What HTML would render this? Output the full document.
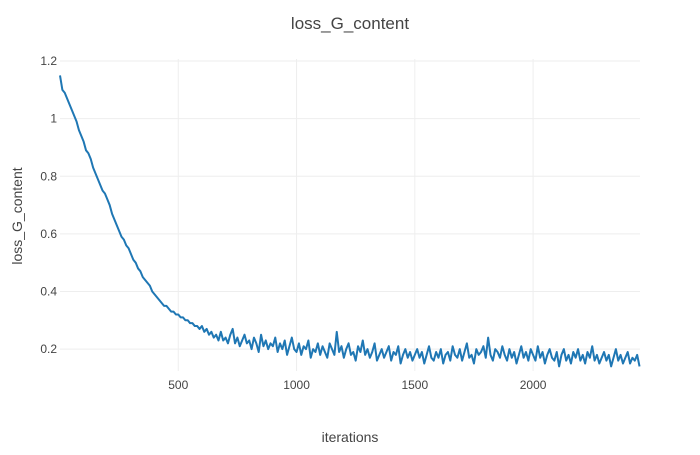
<!DOCTYPE html>
<html><head><meta charset="utf-8"><style>
body{margin:0;background:#fff;}
svg text{font-family:"Liberation Sans",sans-serif;fill:#444;}
</style></head><body>
<svg id="chart" width="700" height="450" xmlns="http://www.w3.org/2000/svg">
<text x="350" y="29" text-anchor="middle" font-size="17">loss_G_content</text>
<g id="grid"></g>
<g id="ticks"></g>
<path id="line" fill="none" stroke="#1f77b4" stroke-width="2" stroke-linejoin="round"></path>
<text x="350" y="442" text-anchor="middle" font-size="14">iterations</text>
<text x="22" y="216" text-anchor="middle" font-size="14" transform="rotate(-90 22 216)">loss_G_content</text>
</svg>
<script>
const xStep = 10;
const lossValues = [
1.15,1.10,1.09,1.07,1.05,1.03,1.01,0.99,0.96,0.94,
0.92,0.89,0.88,0.86,0.83,0.81,0.79,0.77,0.75,0.74,
0.72,0.70,0.67,0.65,0.63,0.61,0.59,0.58,0.56,0.55,
0.53,0.51,0.50,0.48,0.47,0.45,0.44,0.43,0.42,0.40,
0.39,0.38,0.37,0.36,0.35,0.35,0.34,0.33,0.33,0.32,
0.32,0.31,0.31,0.30,0.30,0.29,0.29,0.28,0.28,0.27,
0.28,0.26,0.27,0.25,0.26,0.24,0.25,0.23,0.26,0.23,
0.24,0.22,0.25,0.27,0.22,0.24,0.21,0.23,0.25,0.22,
0.23,0.20,0.24,0.22,0.19,0.25,0.21,0.23,0.20,0.22,
0.21,0.24,0.19,0.22,0.20,0.23,0.18,0.21,0.24,0.20,
0.19,0.22,0.18,0.21,0.20,0.23,0.17,0.20,0.19,0.22,
0.18,0.21,0.19,0.17,0.22,0.20,0.18,0.26,0.19,0.21,
0.17,0.20,0.22,0.18,0.19,0.16,0.21,0.19,0.23,0.18,
0.20,0.17,0.19,0.22,0.16,0.18,0.20,0.17,0.19,0.21,
0.16,0.19,0.18,0.21,0.15,0.18,0.20,0.17,0.19,0.16,
0.18,0.20,0.17,0.19,0.15,0.18,0.21,0.17,0.16,0.19,
0.17,0.20,0.15,0.18,0.19,0.16,0.21,0.18,0.17,0.20,
0.16,0.19,0.22,0.17,0.18,0.15,0.20,0.18,0.19,0.21,
0.17,0.24,0.18,0.16,0.20,0.19,0.17,0.21,0.18,0.16,
0.20,0.17,0.19,0.15,0.18,0.21,0.17,0.19,0.16,0.20,
0.18,0.16,0.21,0.17,0.19,0.15,0.18,0.20,0.17,0.16,
0.19,0.14,0.18,0.20,0.16,0.18,0.15,0.19,0.17,0.20,
0.16,0.18,0.15,0.19,0.17,0.21,0.16,0.18,0.15,0.17,
0.19,0.16,0.18,0.14,0.17,0.20,0.16,0.18,0.15,0.17,
0.19,0.15,0.17,0.16,0.18,0.14];
const xTicks = [500,1000,1500,2000];
const yTicks = [0.2,0.4,0.6,0.8,1,1.2];
const xDomain = [0, 2452];
const yDomain = [0.124, 1.207];

const L=60,R=640,T=59,B=371;
const xs = v => L + (v - xDomain[0])/(xDomain[1]-xDomain[0])*(R-L);
const ys = v => B - (v - yDomain[0])/(yDomain[1]-yDomain[0])*(B-T);
const NS="http://www.w3.org/2000/svg";
const grid=document.getElementById('grid'), ticks=document.getElementById('ticks');
function mk(tag,attrs,parent){const e=document.createElementNS(NS,tag);for(const k in attrs)e.setAttribute(k,attrs[k]);parent.appendChild(e);return e;}
xTicks.forEach(t=>{
  const g=mk('line',{x1:xs(t),x2:xs(t),y1:T,y2:B,stroke:'#eee','stroke-width':1},grid);
  
  
  const tx=mk('text',{x:xs(t),y:B+18,'text-anchor':'middle','font-size':12},ticks);
  
  
  tx.textContent=t;
});
yTicks.forEach(t=>{
  const g=mk('line',{x1:L,x2:R,y1:ys(t),y2:ys(t),stroke:'#eee','stroke-width':1},grid);
  
  
  const tx=mk('text',{x:L-3,y:ys(t)+4,'text-anchor':'end','font-size':12},ticks);
  
  
  tx.textContent=t;
});
let d='';
lossValues.forEach((v,i)=>{d+=(i?'L':'M')+xs(i*xStep).toFixed(2)+','+ys(v).toFixed(2);});
document.getElementById('line').setAttribute('d',d);
</script>
</body></html>
